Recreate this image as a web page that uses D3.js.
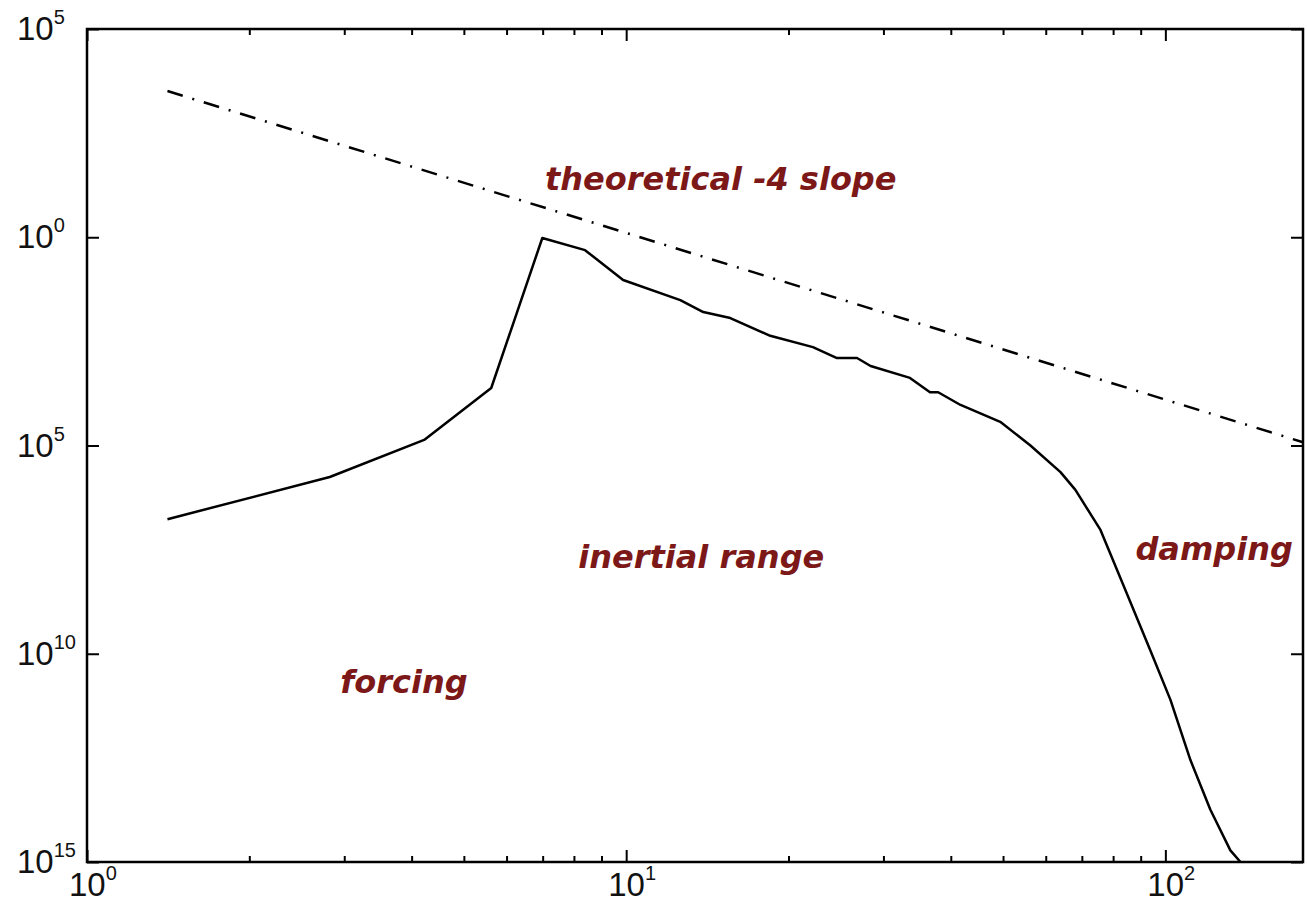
<!DOCTYPE html>
<html>
<head>
<meta charset="utf-8">
<script src="https://cdn.jsdelivr.net/npm/d3@7"></script>
<style>
  body { margin: 0; background: #fff; }
  svg { display: block; }
</style>
</head>
<body>
<script>
// spectrum values (wavenumber k, energy E)
var specK = [1.41, 2.82, 4.22, 5.62, 6.99, 8.39, 9.87, 12.6, 13.9, 15.6, 18.5, 22.2, 24.6, 26.8,
             28.4, 33.6, 36.6, 37.9, 41.7, 49.4, 56.2, 63.9, 68.1, 75.8, 84.3, 93.8, 102.2,
             111.3, 121.2, 132, 137.8];
var specE = [1.7e-7, 1.75e-6, 1.36e-5, 2.4e-4, 0.96, 0.49, 0.094, 0.031, 0.016, 0.0115, 0.0043,
             0.0023, 0.00126, 0.00126, 8.1e-4, 4.2e-4, 1.9e-4, 1.9e-4, 9.4e-5, 3.7e-5, 1.0e-5,
             2.3e-6, 8.6e-7, 9.4e-8, 3.4e-9, 1.2e-10, 7.8e-12, 2.8e-13, 1.8e-14, 1.9e-15, 1e-15];

// k^-4 reference line
var slopeK = [1.41, 180];
var slopeE = [3236, 1.2e-5];

// axis ticks and labels
var xMajor = [1, 10, 100];
var xMinor = [2, 3, 4, 5, 6, 7, 8, 9, 20, 30, 40, 50, 60, 70, 80, 90];
var xLabelExp = ["0", "1", "2"];
var yMajor = [1e5, 1, 1e-5, 1e-10, 1e-15];
var yLabelExp = ["5", "0", "5", "10", "15"];

// annotations (anchored in data coordinates)
var noteText = ["theoretical -4 slope", "inertial range", "forcing", "damping"];
var noteK = [7.07, 8.15, 2.95, 88];
var noteE = [13.6, 1.15e-8, 1.15e-11, 1.8e-8];

function init()
{
    var w = 1307;
    var h = 905;
    var margin = {top: 29, right: 4, bottom: 43, left: 87};

    var svg = d3.select("body")
                .append("svg")
                .attr("width", w)
                .attr("height", h);

    var x = d3.scaleLog()
              .domain([1, 180])
              .range([margin.left, w - margin.right]);

    var y = d3.scaleLog()
              .domain([1e-15, 1e5])
              .range([h - margin.bottom, margin.top]);

    var x0 = x.range()[0], x1 = x.range()[1];
    var y0 = y.range()[0], y1 = y.range()[1];

    function tickAxis(axis, tx, ty) {
        var g = svg.append("g")
                   .attr("transform", "translate(" + tx + "," + ty + ")")
                   .call(axis);
        g.select(".domain").remove();
        g.selectAll("text").remove();
        g.selectAll("line").attr("stroke", "#000").attr("stroke-width", 2);
    }

    // inward ticks on all four sides
    tickAxis(d3.axisBottom(x).tickValues(xMajor).tickSize(-12), 0, y0);
    tickAxis(d3.axisBottom(x).tickValues(xMinor).tickSize(-6), 0, y0);
    tickAxis(d3.axisTop(x).tickValues(xMajor).tickSize(-12), 0, y1);
    tickAxis(d3.axisTop(x).tickValues(xMinor).tickSize(-6), 0, y1);
    tickAxis(d3.axisLeft(y).tickValues(yMajor).tickSize(-12), x0, 0);
    tickAxis(d3.axisRight(y).tickValues(yMajor).tickSize(-12), x1, 0);

    // frame
    svg.append("rect")
       .attr("x", x0)
       .attr("y", y1)
       .attr("width", x1 - x0)
       .attr("height", y0 - y1)
       .attr("fill", "none")
       .attr("stroke", "#000")
       .attr("stroke-width", 2.5);

    // tick labels
    var labelFont = "'Liberation Sans', Arial, sans-serif";

    var xl = svg.selectAll(".xlab")
                .data(xMajor)
                .enter()
                .append("text")
                .attr("class", "xlab")
                .attr("x", function(d) { return x(d) - 18; })
                .attr("y", y0 + 34)
                .style("font-family", labelFont)
                .style("font-size", "33px")
                .attr("fill", "#111");
    xl.append("tspan").text("10");
    xl.append("tspan")
      .attr("dy", -16)
      .style("font-size", "20px")
      .text(function(d, i) { return xLabelExp[i]; });

    var yl = svg.selectAll(".ylab")
                .data(yMajor)
                .enter()
                .append("text")
                .attr("class", "ylab")
                .attr("x", 17)
                .attr("y", function(d) { return y(d) + 11; })
                .style("font-family", labelFont)
                .style("font-size", "33px")
                .attr("fill", "#111");
    yl.append("tspan").text("10");
    yl.append("tspan")
      .attr("dy", -16)
      .style("font-size", "20px")
      .text(function(d, i) { return yLabelExp[i]; });

    // lines
    var line = d3.line()
                 .x(function(d) { return x(d[0]); })
                 .y(function(d) { return y(d[1]); });

    svg.append("path")
       .datum(d3.zip(slopeK, slopeE))
       .attr("d", line)
       .attr("fill", "none")
       .attr("stroke", "#000")
       .attr("stroke-width", 2.5)
       .attr("stroke-dasharray", "16,10,2,10");

    svg.append("path")
       .datum(d3.zip(specK, specE))
       .attr("d", line)
       .attr("fill", "none")
       .attr("stroke", "#000")
       .attr("stroke-width", 2.5)
       .attr("stroke-linejoin", "round");

    // annotations
    svg.selectAll(".note")
       .data(noteText)
       .enter()
       .append("text")
       .attr("class", "note")
       .attr("x", function(d, i) { return x(noteK[i]); })
       .attr("y", function(d, i) { return y(noteE[i]); })
       .style("font-family", "'DejaVu Sans', Verdana, sans-serif")
       .style("font-weight", "bold")
       .style("font-style", "italic")
       .style("font-size", "32px")
       .attr("fill", "#7d1818")
       .text(function(d) { return d; });
}
window.onload = init
</script>
</body>
</html>
